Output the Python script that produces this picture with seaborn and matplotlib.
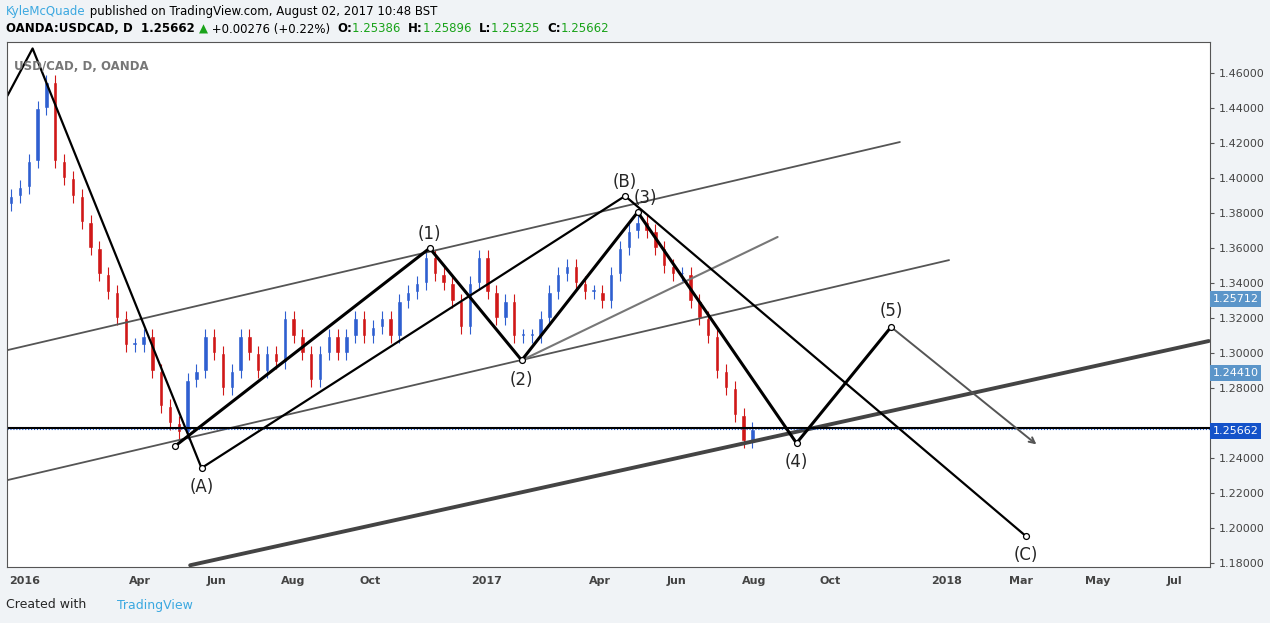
import numpy as np
import pandas as pd
import matplotlib
matplotlib.use("Agg")
import matplotlib.pyplot as plt
import seaborn as sns

# ---- data ----
week_start = "2015-12-14"
closes = [1.385, 1.39, 1.395, 1.41, 1.44, 1.455, 1.41, 1.40, 1.39, 1.375, 1.36, 1.345, 1.335,
          1.32, 1.305, 1.305, 1.31, 1.29, 1.27, 1.26, 1.255, 1.285, 1.29, 1.31, 1.30, 1.28,
          1.29, 1.31, 1.30, 1.29, 1.30, 1.295, 1.32, 1.31, 1.30, 1.285, 1.30, 1.31, 1.30,
          1.31, 1.32, 1.31, 1.315, 1.32, 1.31, 1.33, 1.335, 1.34, 1.355, 1.345, 1.34, 1.33,
          1.315, 1.34, 1.355, 1.335, 1.32, 1.33, 1.31, 1.31, 1.31, 1.32, 1.335, 1.345, 1.35,
          1.34, 1.335, 1.335, 1.33, 1.345, 1.36, 1.37, 1.375, 1.37, 1.36, 1.35, 1.345, 1.345,
          1.33, 1.32, 1.31, 1.29, 1.28, 1.265, 1.25, 1.2566]
big_wave_dates = ["2015-12-18", "2016-01-07", "2016-05-20", "2017-04-21", "2018-03-05"]
big_wave_prices = [1.447, 1.474, 1.2345, 1.3898, 1.1956]
big_wave_labels = ["", "", "(A)", "(B)", "(C)"]
small_wave_dates = ["2016-04-29", "2016-11-17", "2017-01-29", "2017-05-01", "2017-09-04"]
small_wave_prices = [1.247, 1.360, 1.296, 1.3806, 1.2487]
small_wave_labels = ["", "(1)", "(2)", "(3)", "(4)"]
wave5_date, wave5_price = "2017-11-18", 1.315
arrow_end_date, arrow_end_price = "2018-03-15", 1.247
channel_top = (["2015-12-18", "2017-11-25"], [1.3018, 1.4206])
channel_low = (["2015-12-18", "2018-01-03"], [1.2276, 1.3532])
channel_mid = (["2017-01-29", "2017-08-20"], [1.296, 1.3664])
support = (["2016-05-11", "2018-07-28"], [1.179, 1.307])
last_close = 1.25662
hline_price = 1.25712
price_ticks = [1.18, 1.20, 1.22, 1.24, 1.28, 1.30, 1.32, 1.34, 1.36, 1.38, 1.40, 1.42, 1.44, 1.46]
month_ticks = ["2016-01-01", "2016-04-01", "2016-06-01", "2016-08-01", "2016-10-01", "2017-01-01",
               "2017-04-01", "2017-06-01", "2017-08-01", "2017-10-01", "2018-01-01", "2018-03-01",
               "2018-05-01", "2018-07-01"]
month_labels = ["2016", "Apr", "Jun", "Aug", "Oct", "2017", "Apr", "Jun", "Aug", "Oct", "2018", "Mar", "May", "Jul"]
side_labels = [("1.25712", 1.331, "#5b95c9"), ("1.24410", 1.2887, "#5b95c9"), ("1.25662", 1.2556, "#1452c9")]
title_parts = [("KyleMcQuade", "#3ba8e0", "normal"),
               (" published on TradingView.com, August 02, 2017 10:48 BST", "black", "normal")]
header_parts = [("OANDA:USDCAD, D  1.25662 ", "black", "bold"), ("▲", "#1aa31a", "normal"),
                (" +0.00276 (+0.22%)  ", "black", "normal"), ("O:", "black", "bold"),
                ("1.25386  ", "#1aa31a", "normal"), ("H:", "black", "bold"), ("1.25896  ", "#1aa31a", "normal"),
                ("L:", "black", "bold"), ("1.25325  ", "#1aa31a", "normal"), ("C:", "black", "bold"),
                ("1.25662", "#1aa31a", "normal")]

base = pd.Timestamp("2016-01-01")
def d(s):
    return (pd.Timestamp(s) - base).days
def dl(lst):
    return [d(s) for s in lst]

sns.set_style("white")
fig = plt.figure(figsize=(12.7, 6.23), dpi=100, facecolor="#f0f3f6")
ax = fig.add_axes([7/1270, 1-567/623, (1210-7)/1270, (567-42)/623])
ax.set_facecolor("white")

wd = pd.date_range(week_start, periods=len(closes), freq="7D")
xs = [(t - base).days for t in wd]
prev = closes[0]
for x, c in zip(xs, closes):
    o = prev
    col = "#2f5fd0" if c >= o else "#d01818"
    lo, hi = min(o, c), max(o, c)
    ax.vlines(x, lo - 0.004, hi + 0.004, color=col, lw=0.8)
    ax.bar(x, max(hi - lo, 0.0015), bottom=lo, width=3.5, color=col)
    prev = c

for (ds, ps), lw, col in [(channel_top, 1.3, "#555555"), (channel_low, 1.3, "#555555"),
                          (channel_mid, 1.5, "#777777"), (support, 2.8, "#444444")]:
    sns.lineplot(x=dl(ds), y=ps, ax=ax, color=col, lw=lw, sort=False)

ax.axhline(hline_price, color="black", lw=1.5)
ax.axhline(last_close, color="#1452c9", lw=0.8, ls=":")

sns.lineplot(x=dl(big_wave_dates), y=big_wave_prices, ax=ax, color="black", lw=1.6, sort=False)
sw_d = small_wave_dates + [wave5_date]
sw_p = small_wave_prices + [wave5_price]
sns.lineplot(x=dl(sw_d), y=sw_p, ax=ax, color="black", lw=2.2, sort=False)
ax.scatter(dl(big_wave_dates[2:]) + dl(sw_d), big_wave_prices[2:] + sw_p, s=18, facecolor="white",
           edgecolor="black", zorder=5, lw=0.9)
ax.annotate("", xy=(d(arrow_end_date), arrow_end_price), xytext=(d(wave5_date), wave5_price),
            arrowprops=dict(arrowstyle="->", color="#555555", lw=1.4))

off = {"(A)": -0.011, "(B)": 0.008, "(C)": -0.011, "(1)": 0.008, "(2)": -0.011, "(3)": 0.008, "(4)": -0.011}
for ds, ps, ls in [(big_wave_dates, big_wave_prices, big_wave_labels), (small_wave_dates, small_wave_prices, small_wave_labels)]:
    for dd, pp, lab in zip(ds, ps, ls):
        if lab:
            ax.text(d(dd) + (6 if lab == "(3)" else 0), pp + off[lab], lab, ha="center", va="center", fontsize=12)
ax.text(d(wave5_date), wave5_price + 0.009, "(5)", ha="center", va="center", fontsize=12)

ax.set_xlim(-14.3, 940)
ax.set_ylim(1.178, 1.4777)
ax.yaxis.tick_right()
ax.set_yticks(price_ticks)
ax.set_yticklabels([f"{p:.5f}" for p in price_ticks], fontsize=8, color="#444444")
ax.set_xticks(dl(month_ticks))
ax.set_xticklabels(month_labels, fontsize=8, color="#444444", fontweight="bold")
ax.tick_params(length=3, color="#555555")
for s in ax.spines.values():
    s.set_color("#555555")
for lab, p, col in side_labels:
    ax.text(1.002, p, lab, transform=ax.get_yaxis_transform(), fontsize=8, color="white", va="center",
            bbox=dict(boxstyle="square,pad=0.25", fc=col, ec="none"))

ax.text(0.006, 0.965, "USD/CAD, D, OANDA", transform=ax.transAxes, fontsize=8.5, color="#777777",
        fontweight="bold", va="top")

renderer = fig.canvas.get_renderer()
for parts, ypix in [(title_parts, 11), (header_parts, 29)]:
    xpix = 6
    for txt, col, wt in parts:
        t = fig.text(xpix/1270, 1-ypix/623, txt, fontsize=8.5, va="center", color=col, fontweight=wt)
        xpix += t.get_window_extent(renderer).width

fig.text(6/1270, 1-605/623, "Created with", fontsize=9, va="center")
fig.text(117/1270, 1-605/623, "TradingView", fontsize=9, va="center", color="#3ba8e0")

fig.savefig("out.png", dpi=100, facecolor=fig.get_facecolor())
